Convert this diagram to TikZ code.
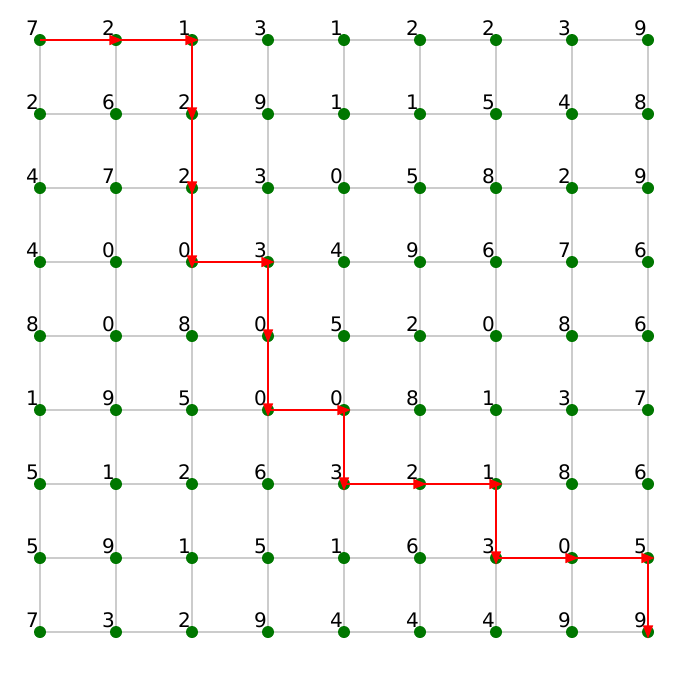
\documentclass[tikz,border=0pt]{standalone}
\usepackage{fontspec}
\setmainfont{DejaVu Sans}
\usetikzlibrary{arrows.meta,calc}
\definecolor{gridgrey}{HTML}{CCCCCC}
\definecolor{dotgreen}{HTML}{007700}
\tikzset{
  gridedge/.style={draw=gridgrey, line width=2pt},
  dot/.style={circle, fill=dotgreen, inner sep=0pt, minimum size=9pt},
  val/.style={font=\fontsize{15}{16}\selectfont, inner sep=0pt, anchor=center},
  pathedge/.style={draw=red, line width=1.1pt, -{Triangle[length=10pt,width=7.5pt]}, shorten >=-5pt}
}
\begin{document}
\begin{tikzpicture}[x=0.75pt,y=-0.75pt]
\useasboundingbox (0,0) rectangle (689,672);
\def\vals{{{7,2,1,3,1,2,2,3,9},{2,6,2,9,1,1,5,4,8},{4,7,2,3,0,5,8,2,9},{4,0,0,3,4,9,6,7,6},{8,0,8,0,5,2,0,8,6},{1,9,5,0,0,8,1,3,7},{5,1,2,6,3,2,1,8,6},{5,9,1,5,1,6,3,0,5},{7,3,2,9,4,4,4,9,9}}}
% coordinates
\foreach \r in {0,...,8}{
  \foreach \c in {0,...,8}{
    \coordinate (p\c-\r) at ({40+76*\c},{40+74*\r});
  }
}
% grid edges
\foreach \r in {0,...,8}{
  \foreach \c [count=\cn from 1] in {0,...,7}{
    \draw[gridedge] (p\c-\r) -- (p\cn-\r);
    \draw[gridedge] (p\r-\c) -- (p\r-\cn);
  }
}
% dots
\foreach \r in {0,...,8}{
  \foreach \c in {0,...,8}{
    \node[dot] (n\c-\r) at (p\c-\r) {};
  }
}
% labels
\foreach \r in {0,...,8}{
  \foreach \c in {0,...,8}{
    \pgfmathtruncatemacro{\v}{\vals[\r][\c]}
    \node[val] (l\c-\r) at ($(p\c-\r)+(-7.5,-11.5)$) {\v};
  }
}
% path
\foreach \a/\b in {0-0/1-0,1-0/2-0,2-0/2-1,2-1/2-2,2-2/2-3,2-3/3-3,3-3/3-4,3-4/3-5,3-5/4-5,4-5/4-6,4-6/5-6,5-6/6-6,6-6/6-7,6-7/7-7,7-7/8-7,8-7/8-8}{
  \draw[pathedge] (n\a.center) -- (n\b.center);
}
\end{tikzpicture}
\end{document}
